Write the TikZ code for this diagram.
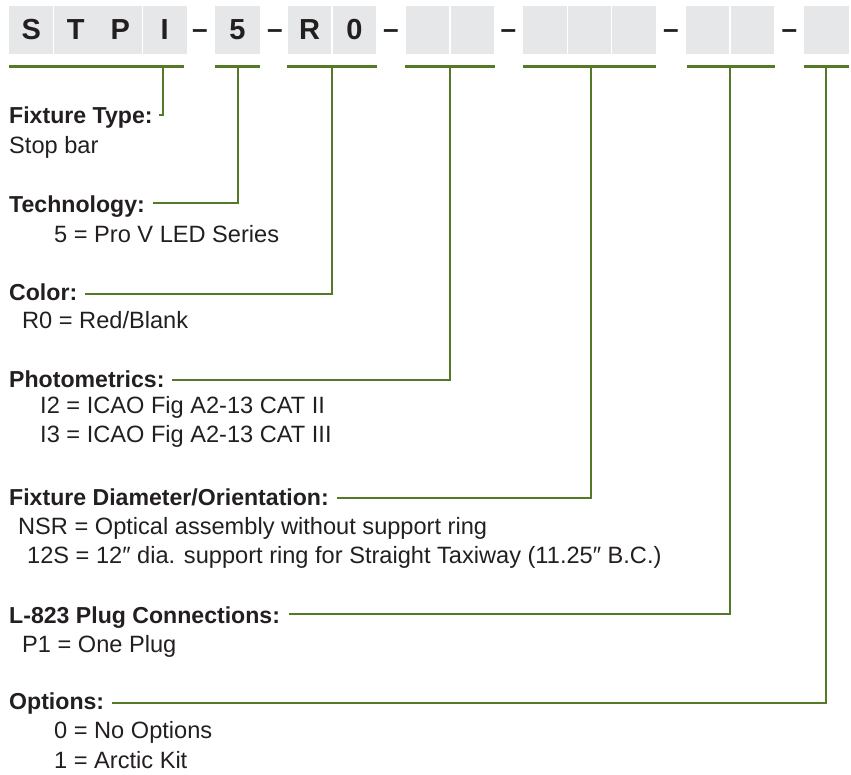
\documentclass[tikz,border=0pt]{standalone}
\usepackage{fontspec}
\setmainfont{Liberation Sans}
\definecolor{lgreen}{RGB}{84,122,40}
\definecolor{ink}{RGB}{35,31,32}
\definecolor{boxgray}{RGB}{230,231,232}
\begin{document}
\begin{tikzpicture}[x=1pt,y=-1pt,
  cell/.style={fill=boxgray, minimum width=43.8pt, minimum height=48pt, inner sep=0, text=ink, font=\fontsize{29}{29}\selectfont\bfseries},
  sepdash/.style={text=ink, font=\fontsize{28}{28}\selectfont\bfseries, inner sep=0},
  head/.style={anchor=base west, inner sep=0, text=ink, font=\fontsize{23.1}{27}\selectfont\bfseries},
  item/.style={anchor=base west, inner sep=0, text=ink, font=\fontsize{23.6}{27}\selectfont},
  conn/.style={draw=lgreen, line width=2.8pt},
]
\useasboundingbox (0,0) rectangle (851,774);

% code boxes
\node[cell] (c1) at (31.25,30) {S};
\node[cell] (c2) at (75.75,30) {T};
\node[cell] (c3) at (120.25,30) {P};
\node[cell] (c4) at (164.75,30) {I};
\node[sepdash] (d1) at (200,34) {–};
\node[cell, minimum width=45pt] (c5) at (237.5,30) {5};
\node[sepdash] (d2) at (275,34) {–};
\node[cell] (c6) at (309.5,30) {R};
\node[cell] (c7) at (354.5,30) {0};
\node[sepdash] (d3) at (391,34) {–};
\node[cell] (c8) at (427.5,30) {};
\node[cell] (c9) at (472.5,30) {};
\node[sepdash] (d4) at (508.5,34) {–};
\node[cell] (c10) at (545.2,30) {};
\node[cell] (c11) at (589.5,30) {};
\node[cell] (c12) at (633.8,30) {};
\node[sepdash] (d5) at (671,34) {–};
\node[cell] (c13) at (707.5,30) {};
\node[cell] (c14) at (752.5,30) {};
\node[sepdash] (d6) at (789.5,34) {–};
\node[cell, minimum width=45pt] (c15) at (826.5,30) {};

% underlines
\draw[conn] ([yshift=-12pt]c1.south west) -- ([yshift=-12pt,xshift=-3pt]c4.south east);
\draw[conn] ([yshift=-12pt]c5.south west) -- ([yshift=-12pt]c5.south east);
\draw[conn] ([yshift=-12pt]c6.south west) -- ([yshift=-12pt]c7.south east);
\draw[conn] ([yshift=-12pt]c8.south west) -- ([yshift=-12pt]c9.south east);
\draw[conn] ([yshift=-12pt]c10.south west) -- ([yshift=-12pt]c12.south east);
\draw[conn] ([yshift=-12pt,xshift=2pt]c13.south west) -- ([yshift=-12pt]c14.south east);
\draw[conn] ([yshift=-12pt]c15.south west) -- ([yshift=-12pt]c15.south east);

\coordinate (v1) at (163,66);
\coordinate (v2) at (238,66);
\coordinate (v3) at (332,66);
\coordinate (v4) at (450,66);
\coordinate (v5) at (591,66);
\coordinate (v6) at (730,66);
\coordinate (v7) at (826,66);

% headings and items
\node[head] (h1) at (9,123) {Fixture Type:};
\node[item] (t1) at (9,153) {Stop bar};

\node[head] (h2) at (9,212) {Technology:};
\node[item] (t2) at (54,242) {5 = Pro V LED Series};

\node[head] (h3) at (9,300) {Color:};
\node[item] (t3) at (22,328) {R0 = Red/Blank};

\node[head] (h4) at (9,387) {Photometrics:};
\node[item] (t4a) at (40,413) {I2 = ICAO Fig A2-13 CAT II};
\node[item] (t4b) at (40,442) {I3 = ICAO Fig A2-13 CAT III};

\node[head] (h5) at (9,505) {Fixture Diameter/Orientation:};
\node[item] (t5a) at (18,534) {NSR = Optical assembly without support ring};
\node[item] (t5b) at (27,563) {12S = 12″ dia. support ring for Straight Taxiway (11.25″ B.C.)};

\node[head] (h6) at (9,623) {L-823 Plug Connections:};
\node[item] (t6) at (22,652) {P1 = One Plug};

\node[head] (h7) at (9,709) {Options:};
\node[item] (t7a) at (54,738) {0 = No Options};
\node[item] (t7b) at (54,768) {1 = Arctic Kit};

% connectors
\draw[conn] ([xshift=6pt,yshift=8pt]h1.base east) -| (v1);
\draw[conn] ([xshift=8pt,yshift=9pt]h2.base east) -| (v2);
\draw[conn] ([xshift=8pt,yshift=6pt]h3.base east) -| (v3);
\draw[conn] ([xshift=7pt,yshift=7pt]h4.base east) -| (v4);
\draw[conn] ([xshift=8pt,yshift=7pt]h5.base east) -| (v5);
\draw[conn] ([xshift=9pt,yshift=9pt]h6.base east) -| (v6);
\draw[conn] ([xshift=8pt,yshift=6pt]h7.base east) -| (v7);
\end{tikzpicture}
\end{document}
